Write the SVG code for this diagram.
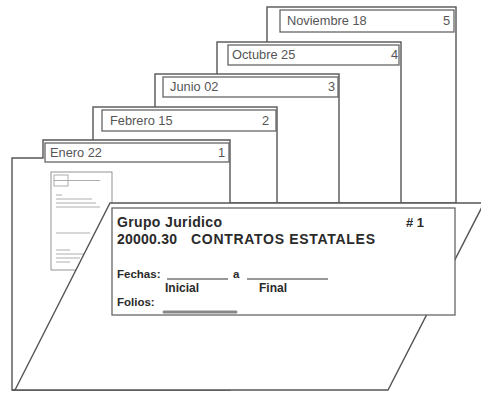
<svg xmlns="http://www.w3.org/2000/svg" width="481" height="395" viewBox="0 0 481 395">
<style>
.f{fill:#fff;stroke:#555;stroke-width:1.4}
.tab{fill:#fff;stroke:#666;stroke-width:1.3}
.tl{font-family:"Liberation Sans",Arial,sans-serif;font-size:12.8px;fill:#555}
.b{font-family:"Liberation Sans",Arial,sans-serif;font-weight:bold;fill:#2a2a2a}
.m{stroke:#999;stroke-width:0.8;fill:none}
</style>
<rect width="481" height="395" fill="#fff"/>
<g id="folder5">
<rect class="f" x="267" y="7" width="189" height="196"/>
<rect class="tab" x="280" y="10" width="174" height="22"/>
<text class="tl" x="287" y="25">Noviembre 18</text>
<text class="tl" x="443" y="25">5</text>
</g>
<g id="folder4">
<rect class="f" x="217" y="42" width="184" height="161"/>
<rect class="tab" x="228" y="45" width="171" height="20"/>
<text class="tl" x="232" y="59">Octubre 25</text>
<text class="tl" x="391" y="59">4</text>
</g>
<g id="folder3">
<rect class="f" x="155" y="74" width="184" height="129"/>
<rect class="tab" x="163" y="77" width="175" height="20"/>
<text class="tl" x="170" y="91">Junio 02</text>
<text class="tl" x="328" y="91">3</text>
</g>
<g id="folder2">
<rect class="f" x="93" y="107" width="184" height="96"/>
<rect class="tab" x="102" y="110" width="174" height="21"/>
<text class="tl" x="110" y="125">Febrero 15</text>
<text class="tl" x="262" y="125">2</text>
</g>
<g id="folder1">
<polygon class="f" points="12,390 12,158 43,158 43,140 230,140 230,390"/>
<rect class="tab" x="45" y="143" width="184" height="19"/>
<text class="tl" x="50" y="157">Enero 22</text>
<text class="tl" x="218" y="157">1</text>
<g id="document">
<rect x="51" y="172" width="61" height="98" fill="#fff" stroke="#888" stroke-width="0.9"/>
<rect class="m" x="54" y="175" width="14" height="11"/>
<path class="m" d="M54 180.5H100M56 195H62M56 199H92M56 203H96M56 207H100M56 233H90M56 250H70M56 254H92M56 258H80M56 262H70"/>
</g>
</g>
<g id="flap">
<polygon class="f" points="110,203 484,203 388,390 15,390"/>
<line x1="12" y1="390" x2="15" y2="390" stroke="#555" stroke-width="1.4"/>
</g>
<g id="label">
<rect class="tab" x="112" y="208" width="343" height="107"/>
<text class="b" x="117" y="227" font-size="14" textLength="105" lengthAdjust="spacing">Grupo Juridico</text>
<text class="b" x="406" y="227" font-size="13" xml:space="preserve"># 1</text>
<text class="b" x="117" y="244" font-size="14" textLength="60" lengthAdjust="spacing">20000.30</text>
<text class="b" x="191" y="244" font-size="14" textLength="184" lengthAdjust="spacing">CONTRATOS ESTATALES</text>
<text class="b" x="117" y="278" font-size="11.5">Fechas:</text>
<line x1="167" y1="279" x2="228" y2="279" stroke="#333" stroke-width="1"/>
<text class="b" x="233" y="278" font-size="11.5">a</text>
<line x1="247" y1="279" x2="328" y2="279" stroke="#333" stroke-width="1"/>
<text class="b" x="165" y="292" font-size="12">Inicial</text>
<text class="b" x="259" y="292" font-size="12">Final</text>
<text class="b" x="117" y="306" font-size="11.5">Folios:</text>
<line x1="164" y1="312" x2="236" y2="312" stroke="#888" stroke-width="3" stroke-linecap="round"/>
</g>
</svg>
